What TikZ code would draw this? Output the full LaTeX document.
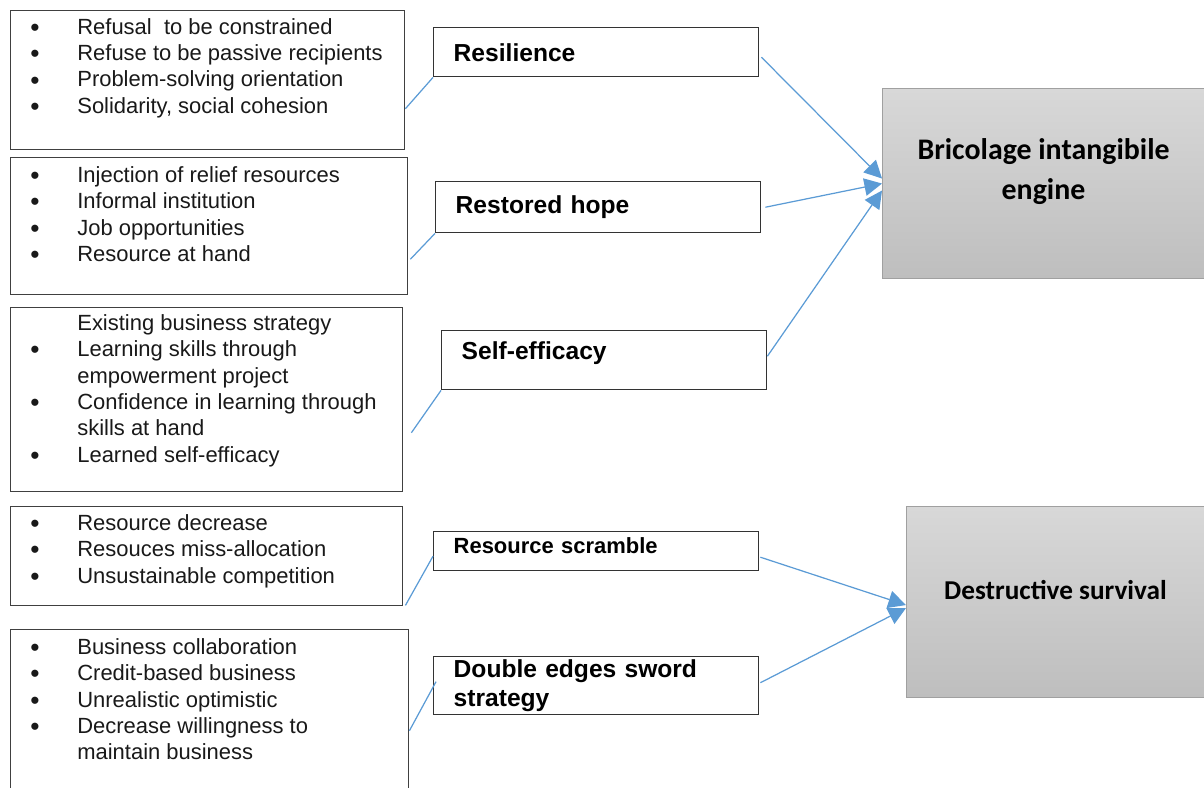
\documentclass[tikz,border=0pt]{standalone}
\usepackage{fontspec}
\setmainfont{Liberation Sans}
\newfontfamily\calibri{Carlito}
\usetikzlibrary{arrows.meta,positioning,calc}
\definecolor{linkblue}{RGB}{91,155,213}
\definecolor{boxedge}{RGB}{160,160,160}
\definecolor{shadetop}{RGB}{216,216,216}
\definecolor{shadebot}{RGB}{190,190,190}
\newcommand{\bul}{\makebox[9.2mm][l]{\hspace*{-0.5pt}\raisebox{-1.2pt}{\fontsize{15}{15}\selectfont\textbullet}}}
\newcommand{\ind}{\hspace*{9.2mm}}

\begin{document}
\begin{tikzpicture}[x=0.2mm, y=-0.2mm,
  listbox/.style={draw=black!75, line width=0.8pt, anchor=north west, inner sep=0},
  listtext/.style={anchor=north west, inner sep=0, align=left, text=black!90,
    font=\fontsize{12.5}{15}\selectfont},
  labelbox/.style={draw=black!80, line width=0.8pt, anchor=north west, align=left,
    text width=57mm, inner xsep=4mm, inner ysep=0, font=\bfseries\fontsize{14}{16.5}\selectfont},
  bigbox/.style={draw=boxedge, line width=0.6pt, anchor=north west, align=center,
    top color=shadetop, bottom color=shadebot, font=\calibri\bfseries},
  link/.style={draw=linkblue, line width=0.7pt},
  arrowlink/.style={link, -{Triangle[length=10pt,width=10pt]}}]
  \useasboundingbox (0,0) rectangle (1204,787);

  % Nodes
  \node[listbox, minimum width=78.8mm, minimum height=27.8mm] (l1) at (10,10) {};
  \node[listtext] (t1) at (31,18) {\bul Refusal\ \ to be constrained\\
    \bul Refuse to be passive recipients\\
    \bul Problem-solving orientation\\
    \bul Solidarity, social cohesion};

  \node[listbox, minimum width=79.4mm, minimum height=27.4mm] (l2) at (10,157) {};
  \node[listtext] (t2) at (31,166) {\bul Injection of relief resources\\
    \bul Informal institution\\
    \bul Job opportunities\\
    \bul Resource at hand};

  \node[listbox, minimum width=78.4mm, minimum height=36.8mm] (l3) at (10,307) {};
  \node[listtext] (t3) at (31,314) {\ind Existing business strategy\\
    \bul Learning skills through\\
    \ind empowerment project\\
    \bul Confidence in learning through\\
    \ind skills at hand\\
    \bul Learned self-efficacy};

  \node[listbox, minimum width=78.4mm, minimum height=19.8mm] (l4) at (10,506) {};
  \node[listtext] (t4) at (31,514) {\bul Resource decrease\\
    \bul Resouces miss-allocation\\
    \bul Unsustainable competition};

  \node[listbox, minimum width=79.6mm, minimum height=34.2mm] (l5) at (10,629) {};
  \node[listtext] (t5) at (31,638) {\bul Business collaboration\\
    \bul Credit-based business\\
    \bul Unrealistic optimistic\\
    \bul Decrease willingness to\\
    \ind maintain business};

  \node[labelbox, minimum height=9.8mm] (r1) at (433,27) {Resilience};
  \node[labelbox, minimum height=10.2mm] (r2) at (435,181) {Restored hope};
  \node[labelbox, minimum height=11.8mm, text depth=11.5pt] (r3) at (441,330) {Self-efficacy};
  \node[labelbox, minimum height=7.8mm, text depth=7pt,
    font=\bfseries\fontsize{12.5}{15}\selectfont] (r4) at (433,531) {Resource scramble};
  \node[labelbox, minimum height=11.6mm] (r5) at (433,656) {Double edges sword\\strategy};

  \node[bigbox, minimum width=64.4mm, minimum height=38mm, text depth=17pt,
    font=\calibri\bfseries\fontsize{17}{22.7}\selectfont] (b1) at (882,88)
    {Bricolage intangibile\\engine};
  \node[bigbox, minimum width=59.6mm, minimum height=38.2mm, text depth=14pt,
    font=\calibri\bfseries\fontsize{15.5}{19}\selectfont] (b2) at (906,506)
    {Destructive survival};

  % Edges
  \draw[link] ($(l1.east)+(0,28.5)$) -- (r1.south west);
  \draw[link] ($(l2.east)+(2,33)$) -- (r2.south west);
  \draw[link] ($(l3.east)+(8,33)$) -- (r3.south west);
  \draw[link] ($(l4.south east)+(2,-1)$) -- ($(r4.west)+(0,5)$);
  \draw[link] ($(l5.east)+(0,15.5)$) -- ($(r5.west)+(3,-4)$);

  \draw[arrowlink] ($(r1.east)+(2,5)$) -- ($(b1.west)+(0,-5)$);
  \draw[arrowlink] ($(r2.east)+(4,0)$) -- (b1.west);
  \draw[arrowlink] ($(r3.east)+(0,-4)$) -- ($(b1.west)+(0,7)$);
  \draw[arrowlink] ($(r4.east)+(1,6)$) -- ($(b2.west)+(0,3)$);
  \draw[arrowlink] ($(r5.east)+(1,-3)$) -- ($(b2.west)+(0,6)$);
\end{tikzpicture}
\end{document}
